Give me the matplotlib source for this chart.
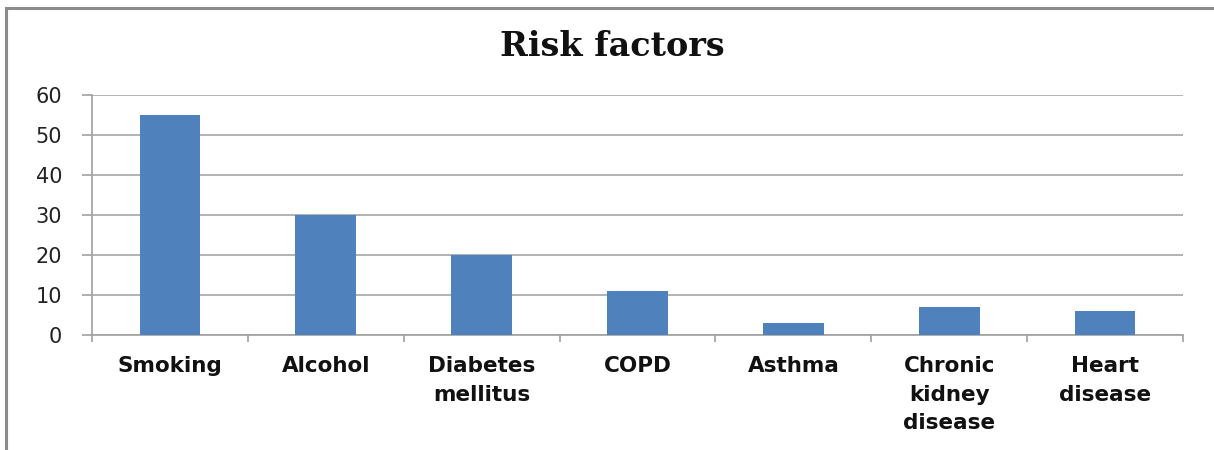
import matplotlib
matplotlib.use("Agg")
import matplotlib.pyplot as plt
from matplotlib.patches import Rectangle
import numpy as np

categories = ["Smoking", "Alcohol", "Diabetes\nmellitus", "COPD", "Asthma",
              "Chronic\nkidney\ndisease", "Heart\ndisease"]
values = [55, 30, 20, 11, 3, 7, 6]
yticks = [0, 10, 20, 30, 40, 50, 60]

W, H = 1214, 450
fig = plt.figure(figsize=(W / 100, H / 100), dpi=100)
fig.patch.set_facecolor("white")

# outer chart frame (runs off the right and bottom edges)
fig.patches.append(Rectangle((6 / W, -0.2), 1.2, 1 - 8 / H + 0.2,
                             transform=fig.transFigure, fill=False,
                             edgecolor="#8c8c8c", linewidth=2.2, zorder=0))

ax = fig.add_axes([92 / W, 1 - 335 / H, (1183 - 92) / W, (335 - 95) / H])
x = np.arange(len(categories))
ax.bar(x, values, width=0.39, color="#4F81BD", zorder=3)

ax.set_xlim(-0.5, len(categories) - 0.5)
ax.set_ylim(0, 60)
ax.set_yticks(yticks)
ax.set_yticklabels([str(v) for v in yticks], fontsize=15, color="#222222")
ax.yaxis.grid(True, color="#a6a6a6", linewidth=1.2, zorder=0)
ax.set_axisbelow(True)

ax.set_xticks(x)
ax.set_xticklabels(categories, fontsize=15.5, fontweight="bold", color="#111111",
                   linespacing=1.55, va="top")
ax.tick_params(axis="x", length=0, pad=15)
ax.set_xticks(np.arange(len(categories) + 1) - 0.5, minor=True)
ax.tick_params(axis="x", which="minor", length=5, color="#a0a0a0", width=1.2)
ax.tick_params(axis="y", length=7, color="#a0a0a0", width=1.2, pad=14.5)

for side in ("top", "right"):
    ax.spines[side].set_visible(False)
for side in ("left", "bottom"):
    ax.spines[side].set_color("#a0a0a0")
    ax.spines[side].set_linewidth(1.2)

fig.text(612 / W, 1 - 46 / H, "Risk factors", ha="center", va="center",
         fontsize=24, fontweight="bold", family="DejaVu Serif", color="#111111")

fig.savefig("out.png", dpi=100, facecolor="white")
